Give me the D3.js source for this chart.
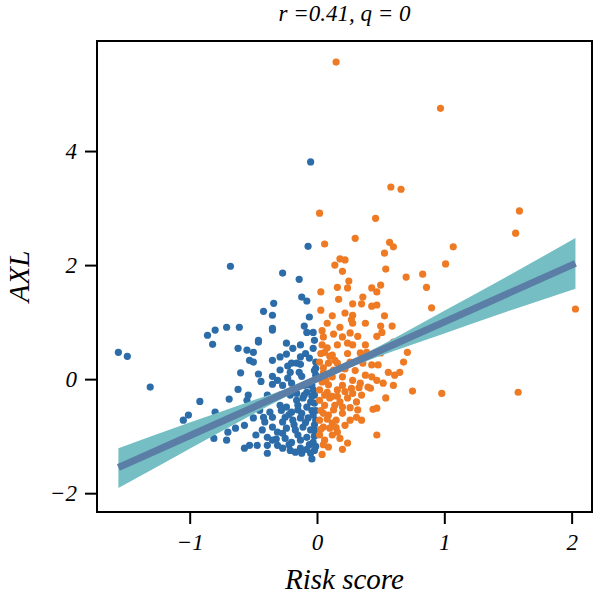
<!DOCTYPE html>
<html>
<head>
<meta charset="utf-8">
<script src="https://d3js.org/d3.v7.min.js"></script>
<style>
    body { margin: 0; background: #fff; }
    text { font-family: "Liberation Serif", "DejaVu Serif", serif; font-style: italic; }
</style>
</head>
<body>
<svg width="600" height="595"></svg>
<script>
// low risk group (score < 0)
var blueRisk = [-1.56, -1.49, -1.31, -1.05, -1.01, -0.92, -0.86, -0.82, -0.80, -0.81, -0.80, -0.71, -0.71, -0.70, -0.69, -0.68,
    -0.61, -0.62, -0.46, -0.55, -0.50, -0.53, -0.50, -0.35, -0.29, -0.24, -0.24, -0.19, -0.13, -0.13, -0.06, -0.20,
    -0.16, -0.23, -0.13, -0.60, -0.46, -0.29, -0.21, -0.14, -0.35, -0.44, -0.31, -0.23, -0.20, -0.35, -0.27, -0.62,
    -0.54, -0.39, -0.55, -0.16, -0.08, -0.11, -0.05, -0.02, -0.15, -0.35, -0.08, -0.03, -0.07, -0.05, -0.27, -0.14,
    -0.12, -0.08, -0.34, -0.42, -0.35, -0.06, -0.35, -0.10, -0.46, -0.64, -0.57, -0.50, -0.42, -0.37, -0.35, -0.29,
    -0.24, -0.20, -0.15, -0.08, -0.25, -0.19, -0.13, -0.07, -0.03, -0.35, -0.31, -0.24, -0.17, -0.11, -0.05, -0.39,
    -0.35, -0.25, -0.20, -0.13, -0.08, -0.03, -0.57, -0.53, -0.47, -0.39, -0.27, -0.21, -0.13, -0.08, -0.02, -0.39,
    -0.04, -0.01, -0.01, -0.03, -0.02, -0.01, -0.02, -0.02, -0.01, -0.05, -0.01, -0.03, -0.04, -0.10, -0.10, -0.16,
    -0.21, -0.29, -0.27, -0.43, -0.48, -0.31, -0.28, -0.22, -0.12, -0.04, -0.18, -0.09, -0.27, -0.15, -0.06, -0.22,
    -0.32, -0.12, -0.17, -0.04, -0.07, -0.12, -0.02, -0.09, -0.02, -0.41, -0.45, -0.02, -0.01];
var blueAxl = [0.47, 0.40, -0.14, -0.72, -0.63, -0.39, 0.77, 0.61, 0.86, -1.04, -0.58, -1.07, 0.91, -0.93, -0.35, 1.98,
    0.91, 0.54, 0.65, 0.51, 0.47, 0.33, 0.30, 0.33, 0.39, 0.44, 0.63, 0.54, 0.60, 0.39, 0.37, 0.28,
    0.28, 0.23, 0.26, 0.11, 0.09, 0.16, 0.12, 0.12, 0.05, -0.04, -0.02, 0.02, -0.07, -0.09, -0.11, -0.18,
    -0.28, -0.28, -0.37, -0.25, -0.23, -0.33, -0.40, -0.42, -0.46, 0.86, 0.82, 0.82, 2.33, 3.81, 1.86, 1.75,
    1.44, 1.37, 1.33, 1.19, 1.12, 1.09, 0.89, 0.93, 0.68, -0.86, -0.81, -0.68, -0.67, -0.58, -0.67, -0.46,
    -0.49, -0.58, -0.54, -0.49, -0.67, -0.72, -0.68, -0.68, -0.63, -0.84, -0.93, -0.86, -0.89, -0.84, -0.89, -1.02,
    -1.07, -1.04, -1.11, -1.07, -1.02, -1.11, -1.21, -1.16, -1.16, -1.16, -1.21, -1.25, -1.21, -1.23, -1.25, -1.30,
    -1.40, 0.30, 0.19, -0.19, -0.28, -0.72, -0.89, -1.00, -1.18, -1.30, 0.07, 0.54, -0.11, -0.11, -0.28, -0.37,
    -0.28, -0.28, -0.75, -0.89, -0.98, -1.16, -0.55, -0.62, -0.60, -0.55, -0.80, -0.76, -0.95, -0.98, -1.15, -1.15,
    -1.05, -1.30, -1.28, -0.30, -0.10, 0.05, 0.15, 0.45, 0.68, -0.75, -0.55, -0.80, -0.55];

// high risk group (score > 0)
var orangeRisk = [0.15, 0.97, 0.58, 0.66, 1.59, 0.02, 0.46, 1.56, 0.30, 0.06, 0.57, 0.60, 0.53, 1.07, 1.01, 0.18,
    0.22, 0.14, 0.20, 0.54, 0.70, 0.83, 0.86, 0.90, 2.03, 0.25, 0.16, 0.24, 0.03, 0.43, 0.47, 0.50,
    0.17, 0.36, 0.28, 0.35, 0.43, 0.47, 0.03, 0.12, 0.22, 0.28, 0.27, 0.53, 0.08, 0.18, 0.28, 0.38,
    0.50, 0.59, 0.05, 0.13, 0.26, 0.32, 0.47, 0.51, 0.71, 0.20, 0.16, 0.24, 0.28, 0.12, 0.34, 0.39,
    0.50, 0.02, 0.09, 0.13, 0.16, 0.26, 0.36, 0.48, 0.68, 0.65, 0.05, 0.12, 0.20, 0.28, 0.38, 0.43,
    0.47, 0.34, 0.20, 0.27, 0.40, 0.52, 0.60, 0.02, 0.08, 0.16, 0.28, 0.35, 0.42, 0.02, 0.10, 0.18,
    0.24, 0.31, 0.06, 0.14, 0.20, 0.32, 0.47, 0.75, 0.98, 1.58, 0.13, 0.05, 0.20, 0.44, 0.31, 0.02,
    0.12, 0.05, 0.16, 0.02, 0.06, 0.18, 0.24, 0.47, 0.20, 0.04, 0.04, 0.06, 0.07, 0.06, 0.09, 0.10,
    0.15, 0.22, 0.26, 0.35, 0.09, 0.38, 0.43, 0.56, 0.54, 0.61, 0.60, 0.71, 0.04, 0.08, 0.10, 0.03,
    0.05, 0.09, 0.04, 0.12, 0.03, 0.08, 0.15, 0.05, 0.12, 0.22, 0.14, 0.24, 0.30, 0.22, 0.33, 0.03,
    0.16, 0.26];
var orangeAxl = [5.56, 4.75, 3.37, 3.33, 2.95, 2.91, 2.82, 2.56, 2.47, 2.37, 2.40, 2.32, 2.21, 2.32, 2.02, 2.11,
    2.09, 2.00, 1.89, 1.93, 1.79, 1.84, 1.61, 1.25, 1.23, 1.72, 1.61, 1.60, 1.53, 1.60, 1.53, 1.65,
    1.40, 1.44, 1.32, 1.32, 1.28, 1.30, 1.21, 1.11, 1.16, 1.12, 1.04, 1.11, 0.98, 0.91, 0.98, 0.98,
    0.93, 0.93, 0.74, 0.79, 0.81, 0.75, 0.75, 0.82, 0.74, 0.74, 0.60, 0.63, 0.60, 0.42, 0.46, 0.47,
    0.46, 0.30, 0.28, 0.16, 0.28, 0.30, 0.28, 0.25, 0.30, 0.12, 0.11, 0.04, 0.04, -0.02, 0.07, 0.04,
    -0.02, -0.07, -0.11, -0.16, -0.14, -0.07, -0.11, -0.19, -0.23, -0.19, -0.25, -0.28, -0.16, -0.37, -0.33, -0.40,
    -0.33, -0.40, -0.46, -0.46, -0.49, -0.54, -0.51, -0.21, -0.25, -0.23, -0.54, -0.60, -0.60, -0.53, -0.67, -0.72,
    -0.77, -0.84, -0.93, -0.98, -1.07, -1.04, -1.12, -0.98, -1.23, -1.32, 0.60, 0.47, -0.02, -0.28, -0.63, -0.86,
    -0.72, -0.81, -0.72, -0.72, -1.19, 0.60, 0.25, 0.12, -0.33, 0.07, 0.65, 0.47, 0.85, 0.55, 0.40, 0.45,
    0.20, -0.10, -0.05, -0.30, -0.55, -0.70, -0.85, -1.15, -0.98, -0.22, 0.33, 0.45, 0.15, 0.18, -0.15, -0.88,
    -0.30, -0.50];

// linear fit and its confidence band
var fitX = [-1.56, 2.03];
var fitY = [-1.55, 2.03];
var bandX = [-1.56, -1, -0.5, 0, 0.5, 1, 1.5, 2.03];
var bandLow = [-1.91, -1.22, -0.61, -0.035, 0.41, 0.80, 1.19, 1.585];
var bandHigh = [-1.21, -0.76, -0.37, 0.035, 0.59, 1.20, 1.81, 2.475];

var xTicks = [-1, 0, 1, 2];
var yTicks = [-2, 0, 2, 4];
var titleText = "r =0.41, q = 0";

function setup_svg() {
    var svg = d3.select("svg"),
        margin = { top: 41, right: 8, bottom: 83, left: 97 },
        width = svg.attr("width") - margin.left - margin.right,
        height = svg.attr("height") - margin.top - margin.bottom,
        g = svg.append("g").attr("transform", "translate(" + margin.left + "," + margin.top + ")");
    return { svg, g, width, height, margin };
}

function draw_points(g, xs, ys, x_scale, y_scale, color) {
    var pts = xs.map(function (v, i) { return { x: v, y: ys[i] }; });
    g.selectAll(null)
        .data(pts)
        .enter().append("circle")
        .attr("cx", function (d) { return x_scale(d.x); })
        .attr("cy", function (d) { return y_scale(d.y); })
        .attr("r", 3.6)
        .attr("fill", color);
}

function draw_fit(g, x_scale, y_scale) {
    var band = bandX.map(function (v, i) { return { x: v, lo: bandLow[i], hi: bandHigh[i] }; });
    var area = d3.area()
        .curve(d3.curveMonotoneX)
        .x(function (d) { return x_scale(d.x); })
        .y0(function (d) { return y_scale(d.lo); })
        .y1(function (d) { return y_scale(d.hi); });
    g.append("path")
        .datum(band)
        .attr("fill", "#75bfc4")
        .attr("d", area);

    var line = d3.line()
        .x(function (d) { return x_scale(d[0]); })
        .y(function (d) { return y_scale(d[1]); });
    g.append("path")
        .datum(d3.zip(fitX, fitY))
        .attr("fill", "none")
        .attr("stroke", "#5a7ea6")
        .attr("stroke-width", 7)
        .attr("d", line);
}

function display_axis(g, width, height, x_scale, y_scale) {
    var xa = g.append("g")
        .attr("transform", "translate(0," + height + ")")
        .call(d3.axisBottom(x_scale).tickValues(xTicks).tickSize(12).tickPadding(10)
            .tickFormat(function (d) { return d < 0 ? "\u2212" + Math.abs(d) : d; }));
    var ya = g.append("g")
        .call(d3.axisLeft(y_scale).tickValues(yTicks).tickSize(12).tickPadding(8)
            .tickFormat(function (d) { return d < 0 ? "\u2212" + Math.abs(d) : d; }));
    [xa, ya].forEach(function (a) {
        a.select(".domain").remove();
        a.selectAll("line").attr("stroke", "#000").attr("stroke-width", 2);
        a.selectAll("text")
            .attr("fill", "#000")
            .style("font-family", "'Liberation Serif', serif")
            .style("font-style", "italic")
            .style("font-size", "23px");
    });

    // frame
    g.append("rect")
        .attr("width", width)
        .attr("height", height)
        .attr("fill", "none")
        .attr("stroke", "#000")
        .attr("stroke-width", 2);

    g.append("text")
        .attr("x", width / 2)
        .attr("y", height + 77)
        .attr("text-anchor", "middle")
        .style("font-size", "29px")
        .text("Risk score");

    g.append("text")
        .attr("transform", "rotate(-90)")
        .attr("x", -height / 2)
        .attr("y", -68)
        .attr("text-anchor", "middle")
        .style("font-size", "29px")
        .text("AXL");

    g.append("text")
        .attr("x", width / 2)
        .attr("y", -20)
        .attr("text-anchor", "middle")
        .style("font-size", "23px")
        .text(titleText);
}

function display_chart() {
    var { svg, g, width, height } = setup_svg();

    var x_scale = d3.scaleLinear().domain([-1.728, 2.16]).range([0, width]);
    var y_scale = d3.scaleLinear().domain([-2.33, 5.93]).range([height, 0]);

    draw_points(g, blueRisk, blueAxl, x_scale, y_scale, "#2c6ca8");
    draw_points(g, orangeRisk, orangeAxl, x_scale, y_scale, "#ee7a24");
    draw_fit(g, x_scale, y_scale);
    display_axis(g, width, height, x_scale, y_scale);
}

display_chart();
</script>
</body>
</html>
